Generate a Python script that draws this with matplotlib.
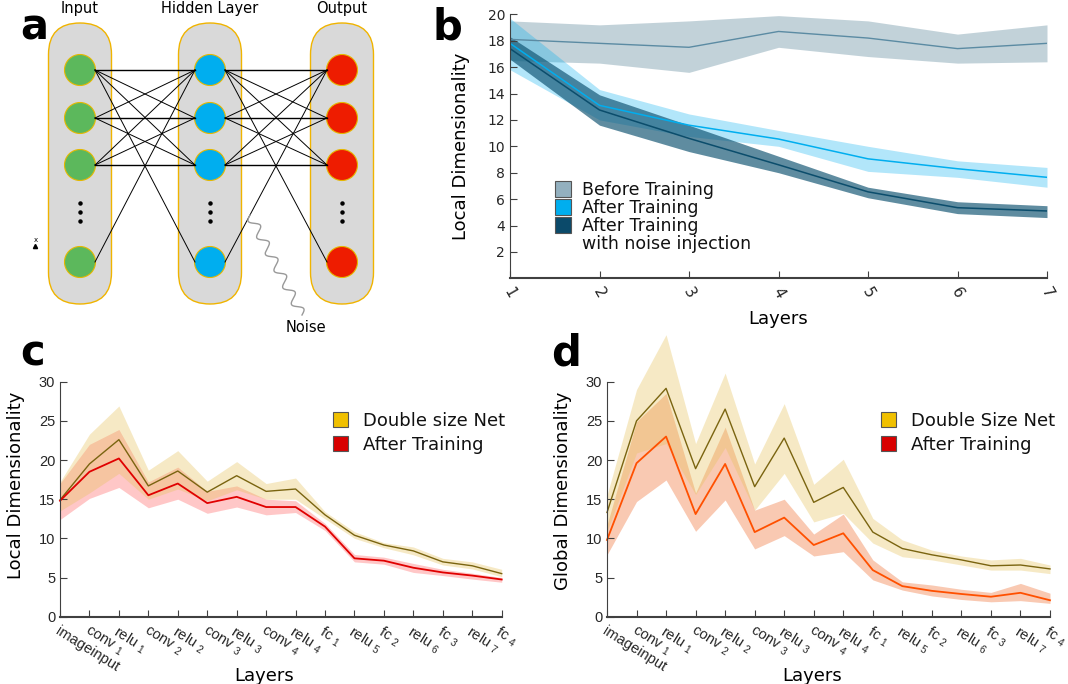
import numpy as np
import matplotlib.pyplot as plt
from matplotlib.patches import FancyBboxPatch, Circle, Rectangle
from matplotlib.transforms import ScaledTranslation

plt.rcParams['font.family'] = 'DejaVu Sans'
plt.rcParams['mathtext.fontset'] = 'custom'
plt.rcParams['mathtext.rm'] = 'Liberation Sans'
plt.rcParams['mathtext.it'] = 'Liberation Sans:italic'

W, H = 1068, 684

# ---------------- data ----------------
# panel a: network sketch
layer_names = ['Input', 'Hidden Layer', 'Output']
layer_x = [80, 210, 342]
layer_colors = ['#5cb85c', '#00aeef', '#ee1c00']
node_y = [70, 118, 165, 262]

# panel b
layers_b = [1, 2, 3, 4, 5, 6, 7]
before_mean = [18.1, 17.8, 17.5, 18.7, 18.2, 17.4, 17.8]
before_hi = [19.5, 19.2, 19.5, 19.9, 19.5, 18.5, 19.2]
before_lo = [16.5, 16.3, 15.6, 17.5, 16.8, 16.3, 16.4]
after_mean = [17.8, 13.1, 11.6, 10.55, 9.05, 8.3, 7.65]
after_hi = [19.7, 14.3, 12.45, 11.2, 10.0, 8.9, 8.4]
after_lo = [15.8, 12.0, 10.75, 10.0, 8.1, 7.65, 6.9]
noise_mean = [17.4, 12.75, 10.6, 8.6, 6.55, 5.35, 5.1]
noise_hi = [18.3, 13.9, 11.6, 9.25, 6.9, 5.8, 5.5]
noise_lo = [16.6, 11.6, 9.6, 8.0, 6.1, 4.9, 4.6]
legend_b = ['Before Training', 'After Training', 'After Training\nwith noise injection']

# panels c and d
layer_labels = ['imageinput', 'conv $_1$', 'relu $_1$', 'conv $_2$', 'relu $_2$', 'conv $_3$',
                'relu $_3$', 'conv $_4$', 'relu $_4$', 'fc $_1$', 'relu $_5$', 'fc $_2$',
                'relu $_6$', 'fc $_3$', 'relu $_7$', 'fc $_4$']

double_c_mean = [14.9, 19.5, 22.6, 16.7, 18.6, 15.9, 18.0, 16.0, 16.3, 13.0, 10.4, 9.15, 8.4, 7.0, 6.5, 5.5]
double_c_hi = [17.2, 23.3, 26.9, 18.7, 21.2, 17.3, 19.8, 17.0, 17.7, 13.4, 10.85, 9.45, 8.9, 7.45, 7.0, 6.05]
double_c_lo = [13.5, 15.8, 18.3, 15.0, 16.3, 14.8, 16.2, 15.0, 15.0, 12.5, 10.0, 8.8, 7.9, 6.6, 6.1, 5.1]
red_c_mean = [14.8, 18.5, 20.2, 15.5, 17.0, 14.5, 15.3, 14.0, 14.0, 11.5, 7.45, 7.15, 6.25, 5.65, 5.25, 4.75]
red_c_hi = [17.0, 22.0, 23.9, 17.2, 19.1, 16.0, 16.7, 15.0, 14.8, 11.9, 7.95, 7.6, 6.8, 6.05, 5.55, 5.0]
red_c_lo = [12.4, 15.1, 16.5, 13.9, 15.0, 13.2, 14.0, 13.0, 13.3, 11.0, 7.0, 6.7, 5.65, 5.25, 4.8, 4.4]

double_d_mean = [13.3, 25.0, 29.15, 18.9, 26.5, 16.6, 22.8, 14.6, 16.5, 10.8, 8.7, 7.9, 7.25, 6.5, 6.6, 6.1]
double_d_hi = [15.5, 29.0, 36.0, 22.1, 31.1, 19.5, 27.2, 16.9, 20.1, 12.55, 9.8, 8.5, 7.75, 7.25, 7.45, 6.6]
double_d_lo = [10.9, 20.9, 22.1, 15.6, 21.6, 13.6, 18.3, 12.1, 13.2, 9.4, 7.65, 7.25, 6.6, 5.95, 5.95, 5.5]
red_d_mean = [9.8, 19.6, 23.0, 13.1, 19.5, 10.8, 12.65, 9.15, 10.65, 5.95, 3.9, 3.3, 2.9, 2.55, 3.05, 2.1]
red_d_hi = [11.7, 24.9, 28.5, 15.8, 24.2, 13.6, 15.0, 10.55, 13.1, 7.25, 4.45, 4.05, 3.5, 3.1, 4.25, 3.0]
red_d_lo = [7.9, 14.7, 17.45, 10.9, 14.9, 8.65, 10.35, 7.75, 8.3, 4.7, 3.4, 2.65, 2.2, 1.9, 2.05, 1.7]

legend_c = ['Double size Net', 'After Training']
legend_d = ['Double Size Net', 'After Training']

# ---------------- figure ----------------
fig = plt.figure(figsize=(W / 100, H / 100), dpi=100)

def style_axes(ax, tickfont, tsize):
    for s in ['top', 'right']:
        ax.spines[s].set_visible(False)
    for s in ['left', 'bottom']:
        ax.spines[s].set_color('#404040')
    ax.spines['bottom'].set_linewidth(1.5)
    ax.tick_params(direction='in', length=5, color='#404040', labelcolor='#262626')
    for lab in ax.get_yticklabels():
        lab.set_fontfamily(tickfont)
        lab.set_fontsize(tsize)

# panel b
ax_b = fig.add_axes([510 / W, 1 - 278.3 / H, 537 / W, 264 / H])
ax_b.set_facecolor('none')
ax_b.fill_between(layers_b, before_lo, before_hi, color='#91aebb', alpha=0.55, lw=0)
ax_b.fill_between(layers_b, after_lo, after_hi, color='#00aeef', alpha=0.3, lw=0)
ax_b.fill_between(layers_b, noise_lo, noise_hi, color='#0a4f6e', alpha=0.65, lw=0)
ax_b.plot(layers_b, before_mean, color='#5b8ba3', lw=1)
ax_b.plot(layers_b, after_mean, color='#00aeef', lw=1.1)
ax_b.plot(layers_b, noise_mean, color='#0b4d6c', lw=1.1)
ax_b.set_xlim(1, 7)
ax_b.set_ylim(0, 20)
ax_b.set_yticks(range(2, 21, 2))
ax_b.set_xticks(layers_b)
ax_b.set_xticklabels([str(v) for v in layers_b], rotation=-60, ha='center', fontsize=11)
style_axes(ax_b, 'DejaVu Sans', 10)
ax_b.tick_params(axis='x', pad=5)
ax_b.set_ylabel('Local Dimensionality', fontsize=13)
ax_b.yaxis.set_label_coords(-0.075, 0.5)
ax_b.set_xlabel('Layers', fontsize=13)
ax_b.xaxis.set_label_coords(0.5, -0.12)

# panels c and d
def panel_cd(rect, dm, dh, dl, rm, rh, rl, red_line, red_fill, red_alpha, ylabel, ylx, yly):
    ax = fig.add_axes(rect)
    ax.set_facecolor('none')
    xs = np.arange(len(layer_labels))
    ax.fill_between(xs, rl, rh, color=red_fill, alpha=red_alpha, lw=0, clip_on=False)
    ax.fill_between(xs, dl, dh, color='#e6c25a', alpha=0.35, lw=0, clip_on=False)
    ax.plot(xs, dm, color='#7a6410', lw=1, clip_on=False)
    ax.plot(xs, rm, color=red_line, lw=1.3, clip_on=False)
    ax.set_xlim(0, len(layer_labels) - 1)
    ax.set_ylim(0, 30)
    ax.set_yticks(range(0, 31, 5))
    ax.set_xticks(xs)
    ax.set_xticklabels(layer_labels, rotation=-32, ha='left', va='top',
                       rotation_mode='anchor', fontsize=10.5, fontfamily='Liberation Sans')
    off = ScaledTranslation(-9 / 100, 0, fig.dpi_scale_trans)
    for lab in ax.get_xticklabels():
        lab.set_transform(lab.get_transform() + off)
    style_axes(ax, 'Liberation Sans', 10.5)
    ax.tick_params(axis='x', pad=5)
    ax.set_ylabel(ylabel, fontsize=13)
    ax.yaxis.set_label_coords(ylx, yly)
    ax.set_xlabel('Layers', fontsize=13)
    ax.xaxis.set_label_coords(0.462, -0.215)
    return ax

ax_c = panel_cd([60 / W, 1 - 616.7 / H, 441.7 / W, 235 / H],
                double_c_mean, double_c_hi, double_c_lo, red_c_mean, red_c_hi, red_c_lo,
                '#e00000', '#ff6060', 0.35, 'Local Dimensionality', -0.08, 0.56)
ax_d = panel_cd([607 / W, 1 - 616.7 / H, 443 / W, 235 / H],
                double_d_mean, double_d_hi, double_d_lo, red_d_mean, red_d_hi, red_d_lo,
                '#ff5000', '#f07840', 0.4, 'Global Dimensionality', -0.08, 0.535)

# ---------------- overlay in pixel coordinates: panel a, legends, letters ----------------
ov = fig.add_axes([0, 0, 1, 1], zorder=10)
ov.set_xlim(0, W)
ov.set_ylim(H, 0)
ov.axis('off')
ov.patch.set_alpha(0)

# pills
for lx, name in zip(layer_x, layer_names):
    ov.add_patch(FancyBboxPatch((lx - 31.5, 23), 63, 281,
                                boxstyle='round,pad=0,rounding_size=31.5',
                                fc='#d9d9d9', ec='#f0b400', lw=1))
    ov.text(lx, 8, name, ha='center', va='center', fontsize=10.5)

# connections
edges = [(i, j) for i in range(3) for j in range(3)] + [(0, 3), (3, 0)]
for k in range(2):
    for i, j in edges:
        ov.plot([layer_x[k] + 15, layer_x[k + 1] - 15], [node_y[i], node_y[j]],
                color='black', lw=0.7 if i != j else 1.0)

# nodes and dots
for lx, col in zip(layer_x, layer_colors):
    for ny in node_y:
        ov.add_patch(Circle((lx, ny), 15.5, fc=col, ec='#e6b800', lw=0.8))
    ov.plot([lx] * 3, [203, 212, 221], 'o', color='black', ms=2.2)

# noise wiggle
t = np.linspace(0, 1, 300)
p0 = np.array([250, 215])
p1 = np.array([302, 315])
d = p1 - p0
nrm = np.array([-d[1], d[0]]) / np.hypot(*d)
wave = 4.5 * np.sin(2 * np.pi * 6 * t)
ov.plot(p0[0] + d[0] * t + nrm[0] * wave, p0[1] + d[1] * t + nrm[1] * wave,
        color='#999999', lw=1)
ov.text(306, 327, 'Noise', ha='center', va='center', fontsize=10.5)

# tiny x marker
ov.text(36, 240, 'x', ha='center', va='center', fontsize=5)
ov.plot([35], [246], marker='^', color='black', ms=3)

# legends
def draw_legend(x, tops, size, colors, labels, tx, base, step, fsize):
    for top, col, lab in zip(tops, colors, labels):
        ov.add_patch(Rectangle((x, top), size, size, fc=col, ec='#555555', lw=0.8))
        for n, line in enumerate(lab.split('\n')):
            ov.text(tx, top + base + n * step, line, fontsize=fsize, va='baseline',
                    color='#111111')

draw_legend(555, [181, 199, 217], 16, ['#93b0bf', '#00aeef', '#0b4a6a'], legend_b,
            582, 14, 18.3, 12.5)
draw_legend(333, [412, 436], 15, ['#f0c000', '#d80000'], legend_c, 363, 14.5, 0, 13)
draw_legend(881, [412, 436], 15, ['#f0c000', '#d80000'], legend_d, 911, 14.5, 0, 13)

# panel letters
for x, y, s in [(20, 40, 'a'), (432, 40, 'b'), (20, 366, 'c'), (551, 366, 'd')]:
    ov.text(x, y, s, fontsize=30, fontweight='bold', va='baseline')

fig.savefig('out.png', dpi=100)
